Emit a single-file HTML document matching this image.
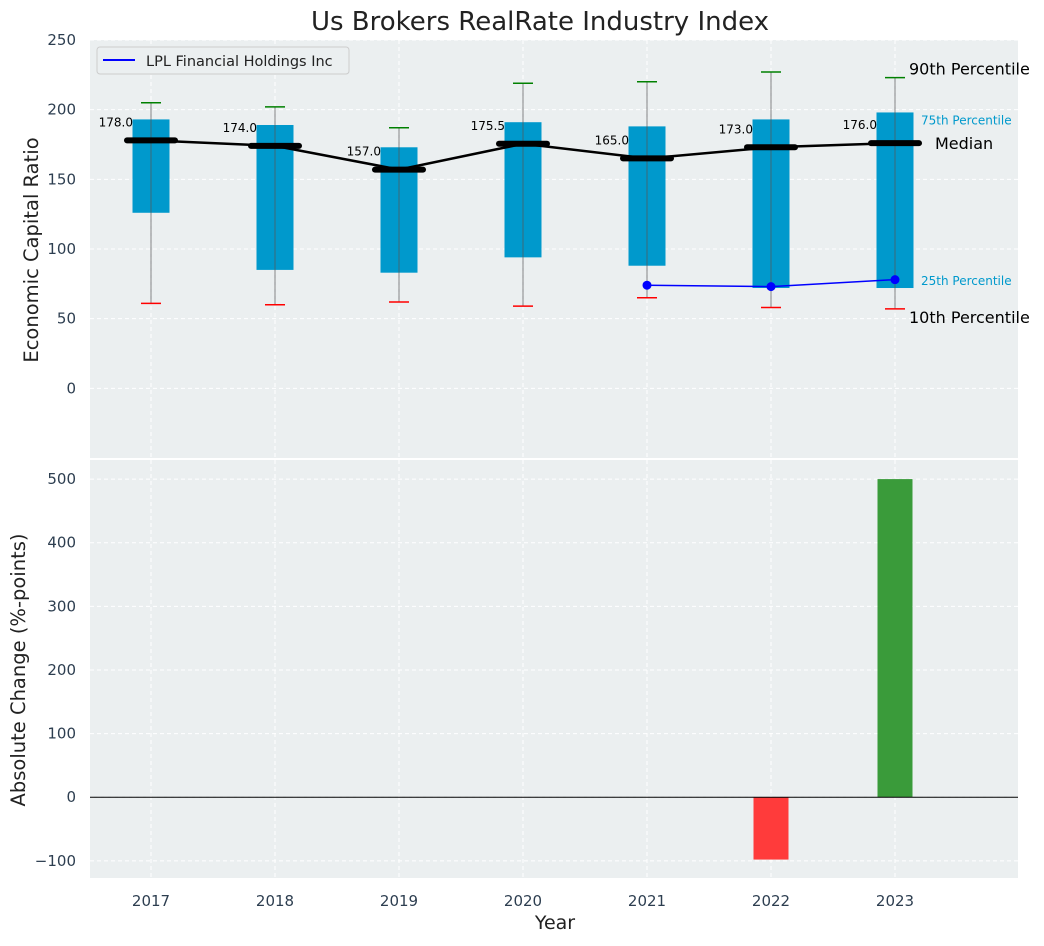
<!DOCTYPE html>
<html><head><meta charset="utf-8"><style>
body{margin:0;background:#fff;font-family:"DejaVu Sans","Liberation Sans",sans-serif;}
svg text{font-family:"DejaVu Sans","Liberation Sans",sans-serif;}
</style></head><body>
<svg id="c" width="1044" height="942" xmlns="http://www.w3.org/2000/svg"></svg>
<script>
const years=[2017,2018,2019,2020,2021,2022,2023];
const p25=[126,85,83,94,88,72,72];
const p75=[193,189,173,191,188,193,198];
const p10=[61,60,62,59,65,58,57];
const p90=[205,202,187,219,220,227,223];
const medians=[178,174,157,175.5,165,173,176];
const lplYears=[2021,2022,2023];
const lplValues=[74,73,78];
const changeYears=[2022,2023];
const changeValues=[-98,500];
const topTicks=[0,50,100,150,200,250];
const botTicks=[-100,0,100,200,300,400,500];

const svg=document.getElementById('c');
const NS='http://www.w3.org/2000/svg';
function el(tag,attrs,parent){const e=document.createElementNS(NS,tag);for(const k in attrs)e.setAttribute(k,attrs[k]);(parent||svg).appendChild(e);return e;}
const L=90,R=1018;
const x=v=>151+(v-2017)*124;
const T1=40,B1=458,yT=v=>T1+(250-v)/(300)*(B1-T1);
const T2=460,B2=878,yB=v=>T2+(530-v)/(657)*(B2-T2);

let e;
e=el('rect',{x:L,y:T1,width:R-L,height:B1-T1,fill:'#ebeff0'});

e=el('rect',{x:L,y:T2,width:R-L,height:B2-T2,fill:'#ebeff0'});


years.forEach(yr=>{
 el('line',{x1:x(yr),x2:x(yr),y1:T1,y2:B1,stroke:'#fff','stroke-dasharray':'4,3'});
 el('line',{x1:x(yr),x2:x(yr),y1:T2,y2:B2,stroke:'#fff','stroke-dasharray':'4,3'});
 e=el('text',{x:x(yr),y:906,'text-anchor':'middle','font-size':15,fill:'#2d3e50'});e.textContent=yr;
 
});
topTicks.forEach(t=>{
 el('line',{x1:L,x2:R,y1:yT(t),y2:yT(t),stroke:'#fff','stroke-dasharray':'4,3'});
 e=el('text',{x:76,y:yT(t)+5,'text-anchor':'end','font-size':15,fill:'#2d3e50'});e.textContent=t;
 
});
botTicks.forEach(t=>{
 el('line',{x1:L,x2:R,y1:yB(t),y2:yB(t),stroke:'#fff','stroke-dasharray':'4,3'});
 e=el('text',{x:76,y:yB(t)+5,'text-anchor':'end','font-size':15,fill:'#2d3e50'});e.textContent=t<0?'\u2212'+(-t):t;
 
});

years.forEach((yr,i)=>{
 const cx=x(yr),w=37;
 e=el('rect',{x:cx-w/2,y:yT(p75[i]),width:w,height:yT(p25[i])-yT(p75[i]),fill:'#0099cc'});
 
 el('line',{x1:cx,x2:cx,y1:yT(p90[i]),y2:yT(p10[i]),stroke:'#555','stroke-width':1,opacity:0.7});
 e=el('line',{x1:cx-10,x2:cx+10,y1:yT(p90[i]),y2:yT(p90[i]),stroke:'green','stroke-width':1.5});
 
 e=el('line',{x1:cx-10,x2:cx+10,y1:yT(p10[i]),y2:yT(p10[i]),stroke:'red','stroke-width':1.5});
 
});
e=el('polyline',{points:years.map((yr,i)=>x(yr)+','+yT(medians[i])).join(' '),fill:'none',stroke:'#000','stroke-width':2.5});

years.forEach((yr,i)=>{
 e=el('line',{x1:x(yr)-24,x2:x(yr)+24,y1:yT(medians[i]),y2:yT(medians[i]),stroke:'#000','stroke-width':6,'stroke-linecap':'round'});
 
 e=el('text',{x:x(yr)-18,y:yT(medians[i])-14,'text-anchor':'end','font-size':12,fill:'#000'});e.textContent=medians[i].toFixed(1);
 
});
e=el('polyline',{points:lplYears.map((yr,i)=>x(yr)+','+yT(lplValues[i])).join(' '),fill:'none',stroke:'blue','stroke-width':1.5});

lplYears.forEach((yr,i)=>{e=el('circle',{cx:x(yr),cy:yT(lplValues[i]),r:4.5,fill:'blue'});
 });
const last=years.length-1,ax=x(2023);
function ann(txt,xx,yy,sz,col,nm){const t=el('text',{x:xx,y:yy,'font-size':sz,fill:col});t.textContent=txt;}
ann('90th Percentile',ax+14,yT(p90[last])-3,16,'#000','annotation-90th');
ann('75th Percentile',ax+26,yT(p75[last])+12,12,'#0099cc','annotation-75th');
ann('Median',ax+40,yT(medians[last])+6,16,'#000','annotation-median');
ann('25th Percentile',ax+26,yT(p25[last])-3,12,'#0099cc','annotation-25th');
ann('10th Percentile',ax+14,yT(p10[last])+14,16,'#000','annotation-10th');

changeYears.forEach((yr,i)=>{const v=changeValues[i];
 e=el('rect',{x:x(yr)-17.5,y:Math.min(yB(v),yB(0)),width:35,height:Math.abs(yB(v)-yB(0)),fill:v<0?'#ff3b3b':'#3a9b3a'});
 });
e=el('line',{x1:L,x2:R,y1:yB(0),y2:yB(0),stroke:'#000','stroke-width':1});


e=el('text',{x:540,y:30,'text-anchor':'middle','font-size':26,fill:'#222'});e.textContent='Us Brokers RealRate Industry Index';

e=el('text',{x:555,y:929,'text-anchor':'middle','font-size':19,fill:'#222'});e.textContent='Year';

e=el('text',{x:0,y:0,'text-anchor':'middle','font-size':19.5,fill:'#222',transform:'translate(38,250) rotate(-90)'});e.textContent='Economic Capital Ratio';

e=el('text',{x:0,y:0,'text-anchor':'middle','font-size':19.5,fill:'#222',transform:'translate(25,670) rotate(-90)'});e.textContent='Absolute Change (%-points)';


const g=el('g',{});
el('rect',{x:97,y:47,width:252,height:27,rx:3,fill:'#ebeff0',stroke:'#ccc'},g);
el('line',{x1:103,x2:135,y1:60,y2:60,stroke:'blue','stroke-width':2},g);
e=el('text',{x:146,y:66,'font-size':14.5,fill:'#222'},g);e.textContent='LPL Financial Holdings Inc';

</script>
</body></html>
